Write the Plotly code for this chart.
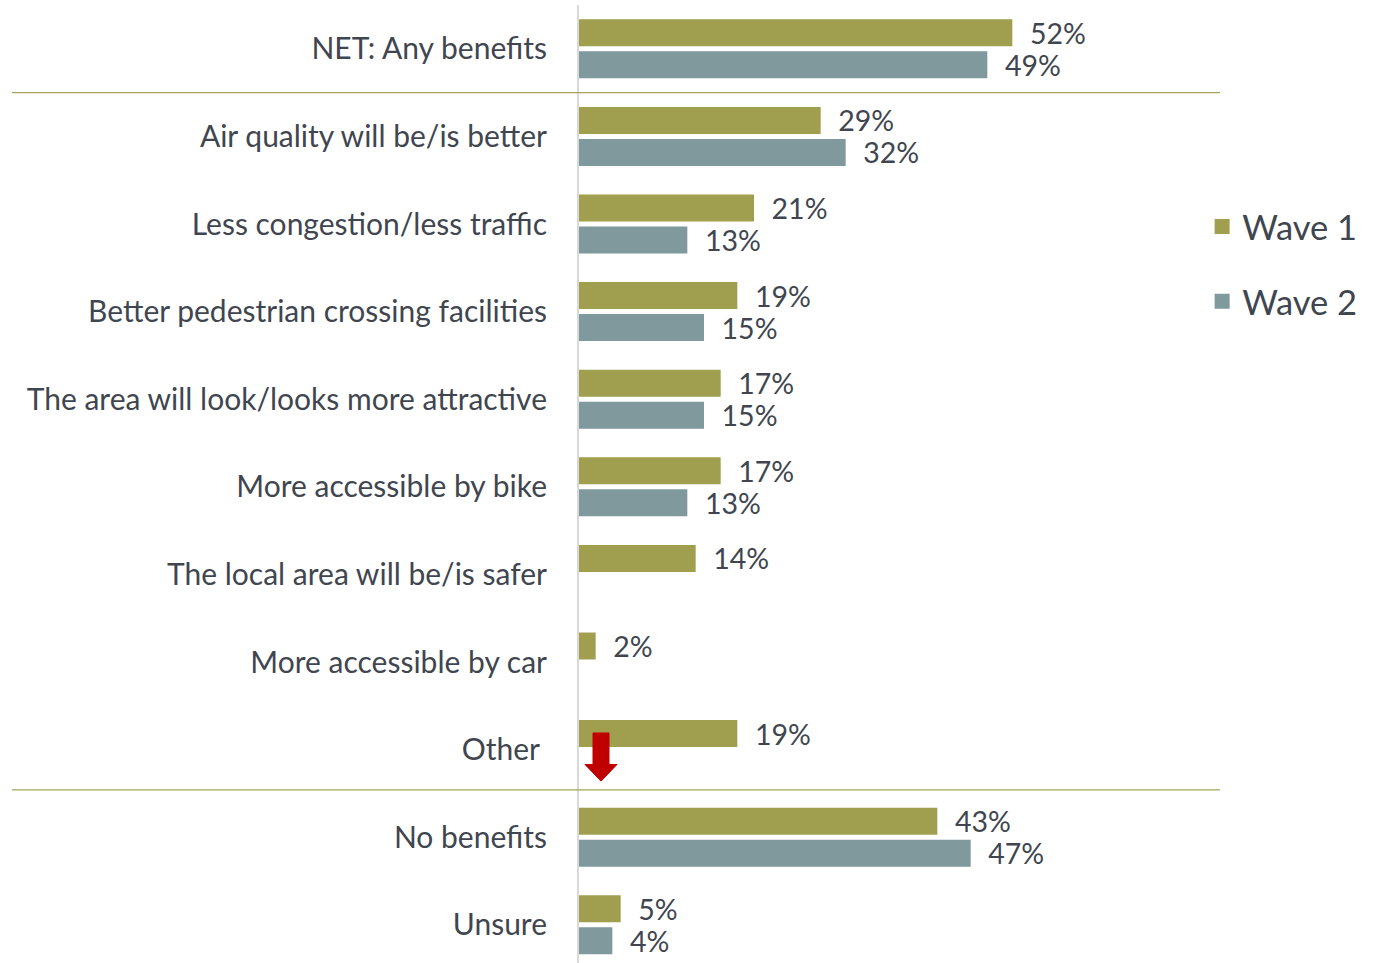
import plotly.graph_objects as go

categories = [
    "NET: Any benefits",
    "Air quality will be/is better",
    "Less congestion/less traffic",
    "Better pedestrian crossing facilities",
    "The area will look/looks more attractive",
    "More accessible by bike",
    "The local area will be/is safer",
    "More accessible by car",
    "Other",
    "No benefits",
    "Unsure",
]
tick_labels = [
    "NET: Any benefits",
    "Air quality will be/is better",
    "Less congestion/less traffic",
    "Better pedestrian crossing facilities",
    "The area will look/looks more attractive",
    "More accessible by bike",
    "The local area will be/is safer",
    "More accessible by car",
    "Other\u00a0",
    "No benefits",
    "Unsure",
]
wave1 = [52, 29, 21, 19, 17, 17, 14, 2, 19, 43, 5]
wave2 = [49, 32, 13, 15, 15, 13, None, None, None, 47, 4]

OLIVE = "#9F9F4F"
TEAL = "#7F999C"
TEXT = "#3F4650"
FONT = "Lato"

W, H = 1384, 963
L, R, T, B = 579, 180, 5, 0
X_MAX = 75

fig = go.Figure()
for name, vals, col, grp in [("Wave 1", wave1, OLIVE, "g1"), ("Wave 2", wave2, TEAL, "g2")]:
    fig.add_trace(go.Bar(
        name=name,
        y=categories,
        x=vals,
        orientation="h",
        marker=dict(color=col, line=dict(width=0)),
        text=[f"{v}%" if v is not None else "" for v in vals],
        texttemplate="  %{text}",
        textposition="outside",
        textfont=dict(family=FONT, size=28.5, color=TEXT),
        constraintext="none",
        cliponaxis=False,
        legendgroup=grp,
        showlegend=False,
        hoverinfo="skip",
    ))

# legend entries with larger square swatches
for name, col, grp in [("Wave 1", OLIVE, "g1"), ("Wave 2", TEAL, "g2")]:
    fig.add_trace(go.Scatter(
        name=name, x=[None], y=[None], mode="markers",
        marker=dict(symbol="square", size=15, color=col),
        legendgroup=grp, showlegend=True, hoverinfo="skip",
    ))

shapes = []
# horizontal separators between sections
for ypos in (0.5, 8.46):
    shapes.append(dict(
        type="line", xref="paper", yref="y",
        x0=(12 - L) / (W - L - R), x1=(1220 - L) / (W - L - R),
        y0=ypos, y1=ypos,
        line=dict(color="#A3A35A", width=1.3),
    ))
# red down arrow
shapes.append(dict(
    type="path", xref="x", yref="y",
    path="M 1.68 7.81 L 3.6 7.81 L 3.6 8.17 L 4.56 8.17 L 2.64 8.36 L 0.72 8.17 L 1.68 8.17 Z",
    fillcolor="#C00000", line=dict(color="#C00000", width=1),
    layer="above",
))

fig.update_layout(
    width=W, height=H,
    margin=dict(l=L, r=R, t=T, b=B),
    paper_bgcolor="white", plot_bgcolor="white",
    barmode="group", bargap=0.27, bargroupgap=0.156,
    font=dict(family=FONT, color=TEXT),
    shapes=shapes,
    showlegend=True,
    legend=dict(
        x=0.997, y=0.799, xanchor="left", yanchor="top",
        font=dict(family=FONT, size=34.5, color=TEXT),
        tracegroupgap=27, bgcolor="rgba(0,0,0,0)",
    ),
    xaxis=dict(range=[0, X_MAX], visible=False, fixedrange=True),
    yaxis=dict(
        type="category",
        categoryorder="array", categoryarray=categories,
        range=[-0.5 + (H - T - B) / 87.6, -0.5],
        tickmode="array", tickvals=categories, ticktext=tick_labels,
        tickfont=dict(family=FONT, size=30, color=TEXT),
        ticks="", ticklabelstandoff=24,
        showline=True, linecolor="#D9D9D9", linewidth=2,
        showgrid=False, zeroline=False,
    ),
)

fig.write_html("out.html")
